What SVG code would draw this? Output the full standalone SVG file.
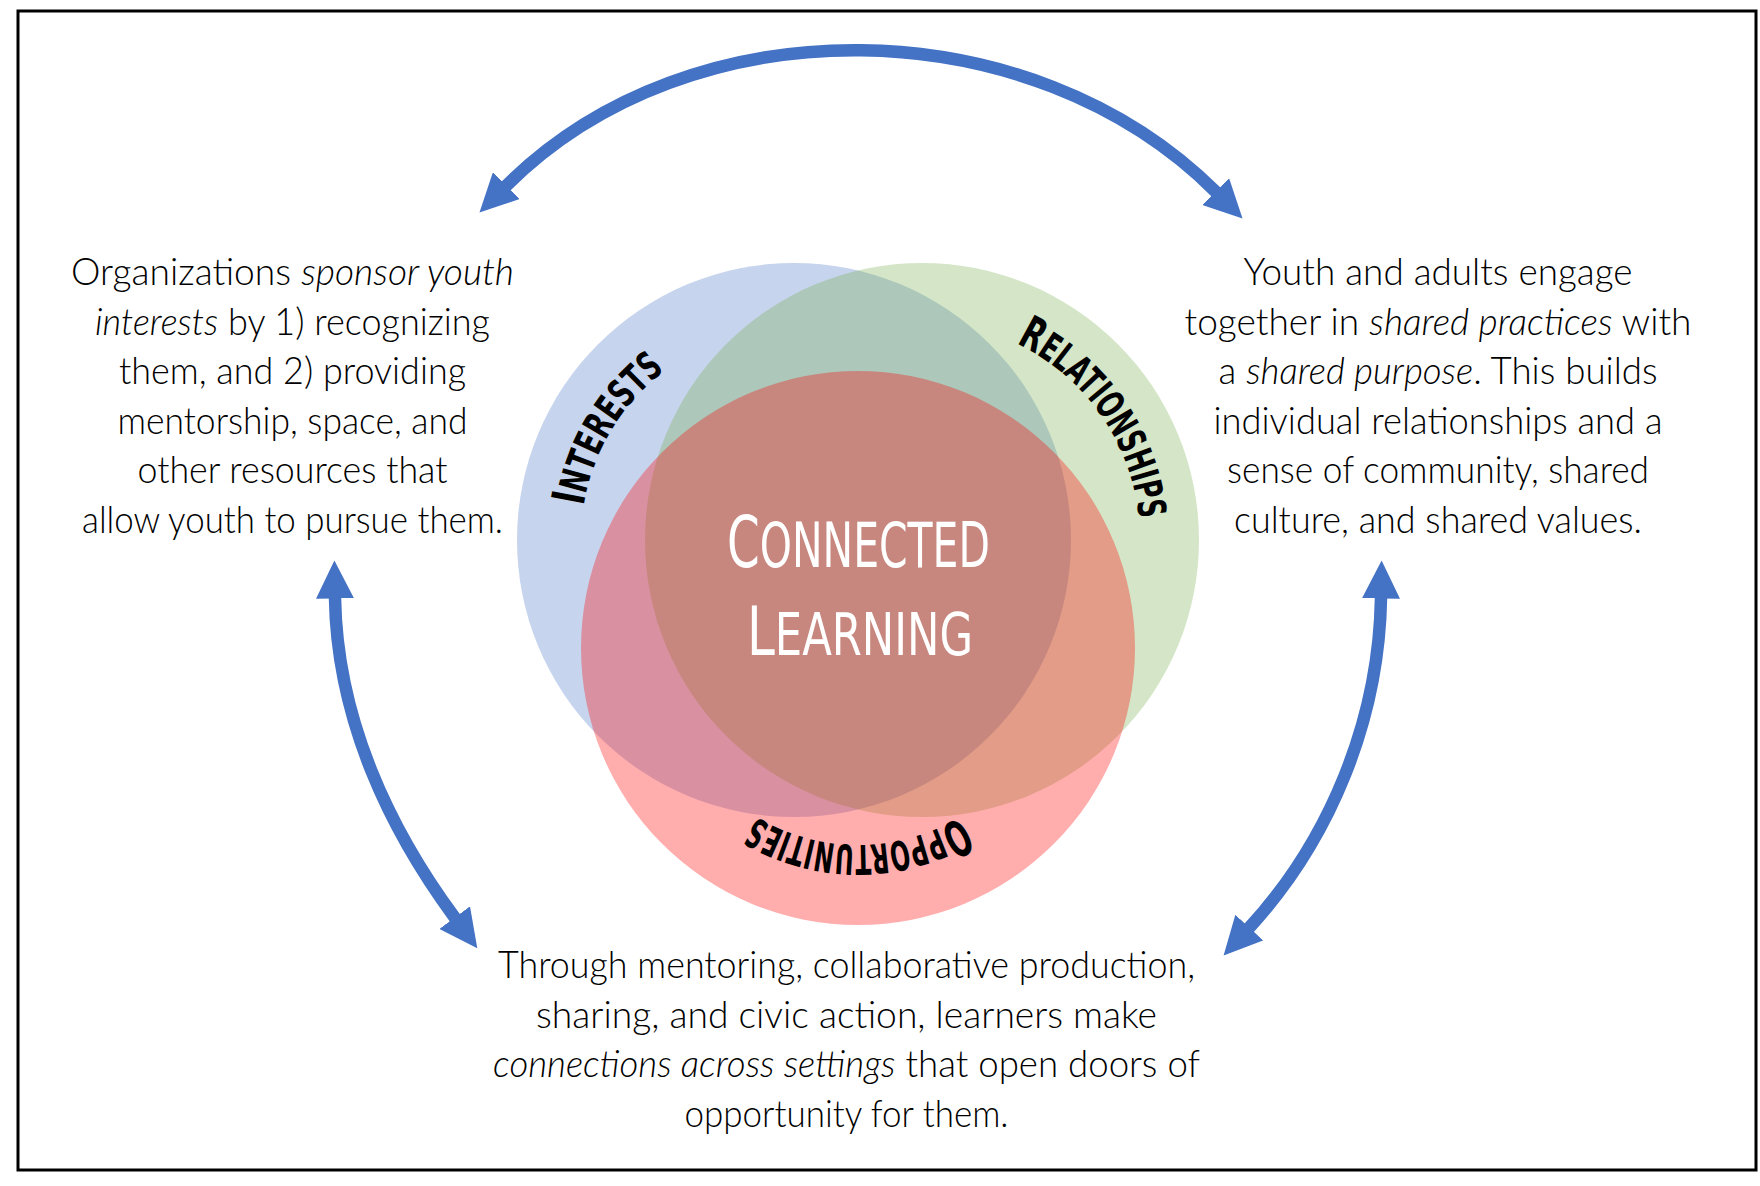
<svg xmlns="http://www.w3.org/2000/svg" width="1760" height="1186" viewBox="0 0 1760 1186">
  <style>
    .body { font-family: "Lato", "Open Sans", "DejaVu Sans", sans-serif; font-weight: 300; font-size: 38px; fill: #000; }
    .it { font-style: italic; font-weight: 300; }
    .lbl { font-family: "DejaVu Sans Condensed", "Liberation Sans Narrow", "DejaVu Sans", sans-serif; font-stretch: condensed; font-weight: bold; fill: #000; }
    .ctr { font-family: "DejaVu Sans Condensed", "Liberation Sans Narrow", "DejaVu Sans", sans-serif; font-stretch: condensed; font-weight: normal; fill: #fff; }
    .arrow { fill: none; stroke: #4472C4; stroke-width: 12.5; marker-start: url(#ah); marker-end: url(#ah); }
  </style>
  <defs>
    <marker id="ah" viewBox="0 0 38 38" refX="0.5" refY="19" markerWidth="38" markerHeight="38" markerUnits="userSpaceOnUse" orient="auto-start-reverse">
      <path d="M0,0 L38,19 L0,38 Z" fill="#4472C4"/>
    </marker>
    <path id="pI" d="M607.7,643.3 A213,213 0 0 1 797.7,327"/>
    <path id="pR" d="M903,322.8 A218,218 0 0 1 1119.6,632.1"/>
    <path id="pO" d="M1028.6,746.5 A197,197 0 0 1 687.4,746.5"/>
  </defs>

  <rect x="18" y="11" width="1738" height="1159" fill="#fff" stroke="#000" stroke-width="3"/>

  <g id="venn">
    <g id="node-interests">
      <circle cx="794" cy="540" r="277" fill="#4472C4" fill-opacity="0.3"/>
    </g>
    <g id="node-relationships">
      <circle cx="922" cy="540" r="277" fill="#70AD47" fill-opacity="0.3"/>
    </g>
    <g id="node-opportunities">
      <circle cx="858" cy="648" r="277" fill="#FF0000" fill-opacity="0.32"/>
    </g>
    <g id="label-interests">
      <text class="lbl" font-size="39"><textPath href="#pI" startOffset="50%" text-anchor="middle" textLength="162" lengthAdjust="spacingAndGlyphs"><tspan font-size="46">I</tspan>NTERESTS</textPath></text>
    </g>
    <g id="label-relationships">
      <text class="lbl" font-size="39"><textPath href="#pR" startOffset="50%" text-anchor="middle" textLength="224" lengthAdjust="spacingAndGlyphs"><tspan font-size="46">R</tspan>ELATIONSHIPS</textPath></text>
    </g>
    <g id="label-opportunities">
      <text class="lbl" font-size="41"><textPath href="#pO" startOffset="50%" text-anchor="middle" textLength="214" lengthAdjust="spacingAndGlyphs"><tspan font-size="50">O</tspan>PPORTUNITIES</textPath></text>
    </g>
    <g id="node-center">
      <text class="ctr" x="727" y="567" font-size="62" textLength="263" lengthAdjust="spacingAndGlyphs"><tspan font-size="71">C</tspan>ONNECTED</text>
      <text class="ctr" x="747" y="655" font-size="59" textLength="226" lengthAdjust="spacingAndGlyphs"><tspan font-size="68">L</tspan>EARNING</text>
    </g>
  </g>

  <g id="node-left-text" class="body" text-anchor="middle">
    <text x="292.5" y="285" textLength="443" lengthAdjust="spacingAndGlyphs">Organizations <tspan class="it">sponsor youth</tspan></text>
    <text x="292.5" y="334.6" textLength="395" lengthAdjust="spacingAndGlyphs"><tspan class="it">interests</tspan> by 1) recognizing</text>
    <text x="292.5" y="384.2" textLength="347" lengthAdjust="spacingAndGlyphs">them, and 2) providing</text>
    <text x="292.5" y="433.8" textLength="350" lengthAdjust="spacingAndGlyphs">mentorship, space, and</text>
    <text x="292.5" y="483.4" textLength="310" lengthAdjust="spacingAndGlyphs">other resources that</text>
    <text x="292.5" y="533" textLength="421" lengthAdjust="spacingAndGlyphs">allow youth to pursue them.</text>
  </g>

  <g id="node-right-text" class="body" text-anchor="middle">
    <text x="1438" y="285" textLength="389" lengthAdjust="spacingAndGlyphs">Youth and adults engage</text>
    <text x="1438" y="334.6" textLength="507" lengthAdjust="spacingAndGlyphs">together in <tspan class="it">shared practices</tspan> with</text>
    <text x="1438" y="384.2" textLength="439" lengthAdjust="spacingAndGlyphs">a <tspan class="it">shared purpose</tspan>. This builds</text>
    <text x="1438" y="433.8" textLength="449" lengthAdjust="spacingAndGlyphs">individual relationships and a</text>
    <text x="1438" y="483.4" textLength="422" lengthAdjust="spacingAndGlyphs">sense of community, shared</text>
    <text x="1438" y="533" textLength="408" lengthAdjust="spacingAndGlyphs">culture, and shared values.</text>
  </g>

  <g id="node-bottom-text" class="body" text-anchor="middle">
    <text x="846.5" y="978" textLength="697" lengthAdjust="spacingAndGlyphs">Through mentoring, collaborative production,</text>
    <text x="846.5" y="1027.6" textLength="621" lengthAdjust="spacingAndGlyphs">sharing, and civic action, learners make</text>
    <text x="846.5" y="1077.2" textLength="707" lengthAdjust="spacingAndGlyphs"><tspan class="it">connections across settings</tspan> that open doors of</text>
    <text x="846.5" y="1126.8" textLength="324" lengthAdjust="spacingAndGlyphs">opportunity for them.</text>
  </g>

  <g id="connectors">
    <path class="arrow" d="M506,186 C691,1 1031,7 1216,192"/>
    <path class="arrow" d="M335,598 C337,720 390,830 455,918"/>
    <path class="arrow" d="M1381,598 C1379,720 1330,840 1249,928"/>
  </g>
</svg>
